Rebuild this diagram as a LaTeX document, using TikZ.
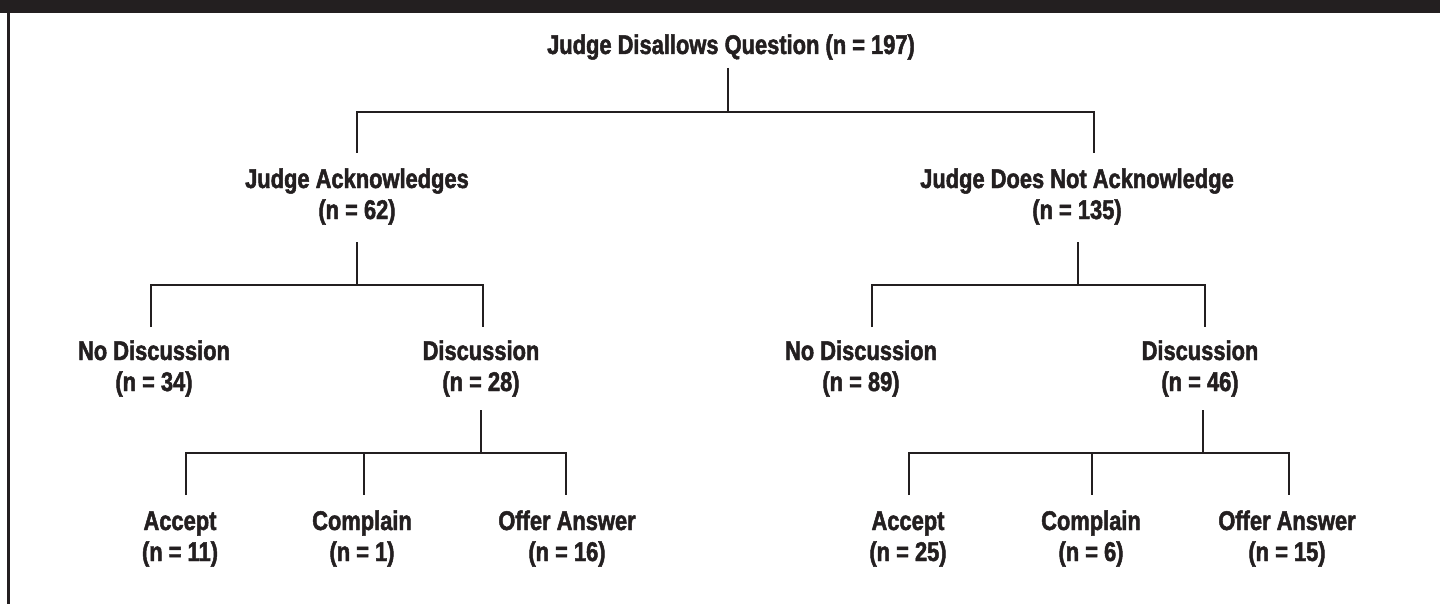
\documentclass[tikz,border=0pt]{standalone}
\usepackage{fontspec}
\setmainfont{Liberation Sans}[FakeStretch=0.81, BoldFeatures={FakeBold=1.8}]
\definecolor{ink}{HTML}{231F20}
\begin{document}
\begin{tikzpicture}[x=1pt,y=-1pt,
  lbl/.style={font={\fontsize{27}{31}\selectfont\bfseries}, text=ink, align=center, inner sep=0pt, anchor=base},
  tree/.style={draw=ink, line width=2.6pt, line join=miter}]
\useasboundingbox (0,0) rectangle (1440,604);
% frame
\fill[ink] (0,0) rectangle (1440,13);
\fill[ink] (7.3,13) rectangle (10,604);
% labels (anchor base = baseline of last line)
\node[lbl] (root) at (731,54) {Judge Disallows Question (n = 197)};
\node[lbl] (ack) at (357,219) {Judge Acknowledges\\(n = 62)};
\node[lbl] (nack) at (1077,219) {Judge Does Not Acknowledge\\(n = 135)};
\node[lbl] (nd1) at (154,391) {No Discussion\\(n = 34)};
\node[lbl] (d1) at (481,391) {Discussion\\(n = 28)};
\node[lbl] (nd2) at (861,391) {No Discussion\\(n = 89)};
\node[lbl] (d2) at (1200,391) {Discussion\\(n = 46)};
\node[lbl] (acc1) at (180,561) {Accept\\(n = 11)};
\node[lbl] (com1) at (362,561) {Complain\\(n = 1)};
\node[lbl] (off1) at (567,561) {Offer Answer\\(n = 16)};
\node[lbl] (acc2) at (908,561) {Accept\\(n = 25)};
\node[lbl] (com2) at (1091,561) {Complain\\(n = 6)};
\node[lbl] (off2) at (1287,561) {Offer Answer\\(n = 15)};
% junction coordinates
\coordinate (r0) at (728,68);   \coordinate (r1) at (728,112);
\coordinate (ackT) at (357,153); \coordinate (nackT) at (1094,153);
\coordinate (a0) at (357,242);  \coordinate (a1) at (357,285);
\coordinate (nd1T) at (151,327); \coordinate (d1T) at (483,327);
\coordinate (b0) at (1078,242); \coordinate (b1) at (1078,285);
\coordinate (nd2T) at (872,327); \coordinate (d2T) at (1205,327);
\coordinate (c0) at (481,410);  \coordinate (c1) at (481,453);
\coordinate (acc1T) at (186,495); \coordinate (com1T) at (364,495); \coordinate (off1T) at (566,495);
\coordinate (e0) at (1203,410); \coordinate (e1) at (1203,453);
\coordinate (acc2T) at (909,495); \coordinate (com2T) at (1092,495); \coordinate (off2T) at (1289,495);
% connectors
\draw[tree] (r0) -- (r1);
\draw[tree] (ackT) -- (ackT |- r1) -- (nackT |- r1) -- (nackT);
\draw[tree] (a0) -- (a1);
\draw[tree] (nd1T) -- (nd1T |- a1) -- (d1T |- a1) -- (d1T);
\draw[tree] (b0) -- (b1);
\draw[tree] (nd2T) -- (nd2T |- b1) -- (d2T |- b1) -- (d2T);
\draw[tree] (c0) -- (c1);
\draw[tree] (acc1T) -- (acc1T |- c1) -- (off1T |- c1) -- (off1T);
\draw[tree] (com1T |- c1) -- (com1T);
\draw[tree] (e0) -- (e1);
\draw[tree] (acc2T) -- (acc2T |- e1) -- (off2T |- e1) -- (off2T);
\draw[tree] (com2T |- e1) -- (com2T);
\end{tikzpicture}
\end{document}
